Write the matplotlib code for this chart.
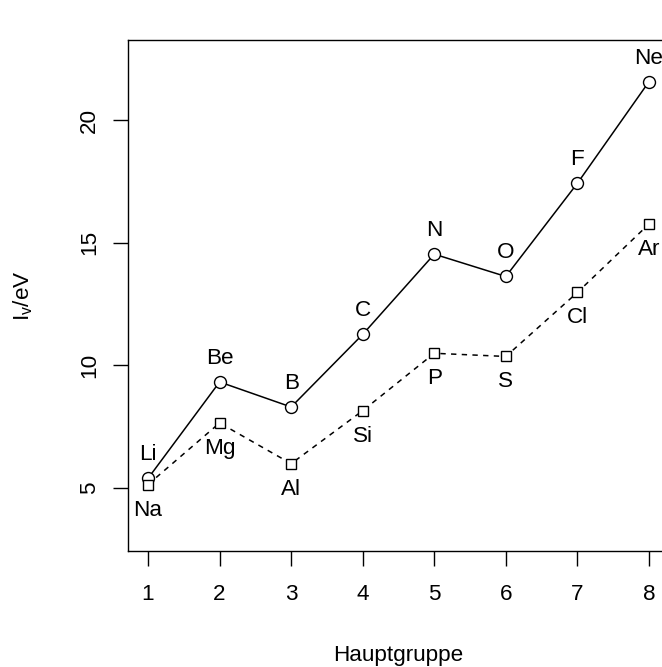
import matplotlib
matplotlib.use("Agg")
from matplotlib import pyplot as plt

plt.rcParams['font.family'] = ['Liberation Sans', 'DejaVu Sans']

gruppe = [1, 2, 3, 4, 5, 6, 7, 8]
periode2 = ['Li', 'Be', 'B', 'C', 'N', 'O', 'F', 'Ne']
periode3 = ['Na', 'Mg', 'Al', 'Si', 'P', 'S', 'Cl', 'Ar']
iv2 = [5.39, 9.32, 8.30, 11.26, 14.53, 13.62, 17.42, 21.56]
iv3 = [5.14, 7.65, 5.99, 8.15, 10.49, 10.36, 12.97, 15.76]

fig = plt.figure(figsize=(6.62, 6.67), dpi=100)
ax = fig.add_axes([128 / 662, 116 / 667, 541 / 662, 511 / 667])

ax.plot(gruppe, iv2, '-', color='black', lw=1.1, marker='o', ms=8.6,
        mfc='white', mec='black', mew=1.0, clip_on=False)
ax.plot(gruppe, iv3, '--', color='black', lw=1.1, dashes=(3.5, 3.5), marker='s', ms=7.0,
        mfc='white', mec='black', mew=1.0, clip_on=False)

fs = 16.2
# labels of period 2 above, period 3 below the points
for x, y, s in zip(gruppe, iv2, periode2):
    ax.annotate(s, (x, y), xytext=(0, 18), textcoords='offset pixels',
                ha='center', va='baseline', fontsize=fs, annotation_clip=False)
for x, y, s in zip(gruppe, iv3, periode3):
    ax.annotate(s, (x, y), xytext=(0, -31), textcoords='offset pixels',
                ha='center', va='baseline', fontsize=fs, annotation_clip=False)

ax.set_xlim(0.72, 8.28)
ax.set_ylim(2.43, 23.26)
ax.set_xticks(gruppe)
ax.set_yticks([5, 10, 15, 20])
ax.tick_params(direction='out', length=10.8, width=1.0, labelsize=fs)
ax.tick_params(axis='x', pad=13)
ax.tick_params(axis='y', pad=9.5)
for lab in ax.get_yticklabels():
    lab.set_rotation(90)
    lab.set_va('center')
for sp in ax.spines.values():
    sp.set_linewidth(1.0)
ax.spines['right'].set_visible(False)  # box edge lies outside the picture

fig.text(398 / 662, 1 - 661 / 667, 'Hauptgruppe', ha='center', va='baseline', fontsize=fs)
fig.text(23 / 662, 1 - 296 / 667, r'I$_{\mathregular{v}}$/eV', ha='center', va='center',
         rotation=90, fontsize=fs)

fig.savefig('out.png', dpi=100)
